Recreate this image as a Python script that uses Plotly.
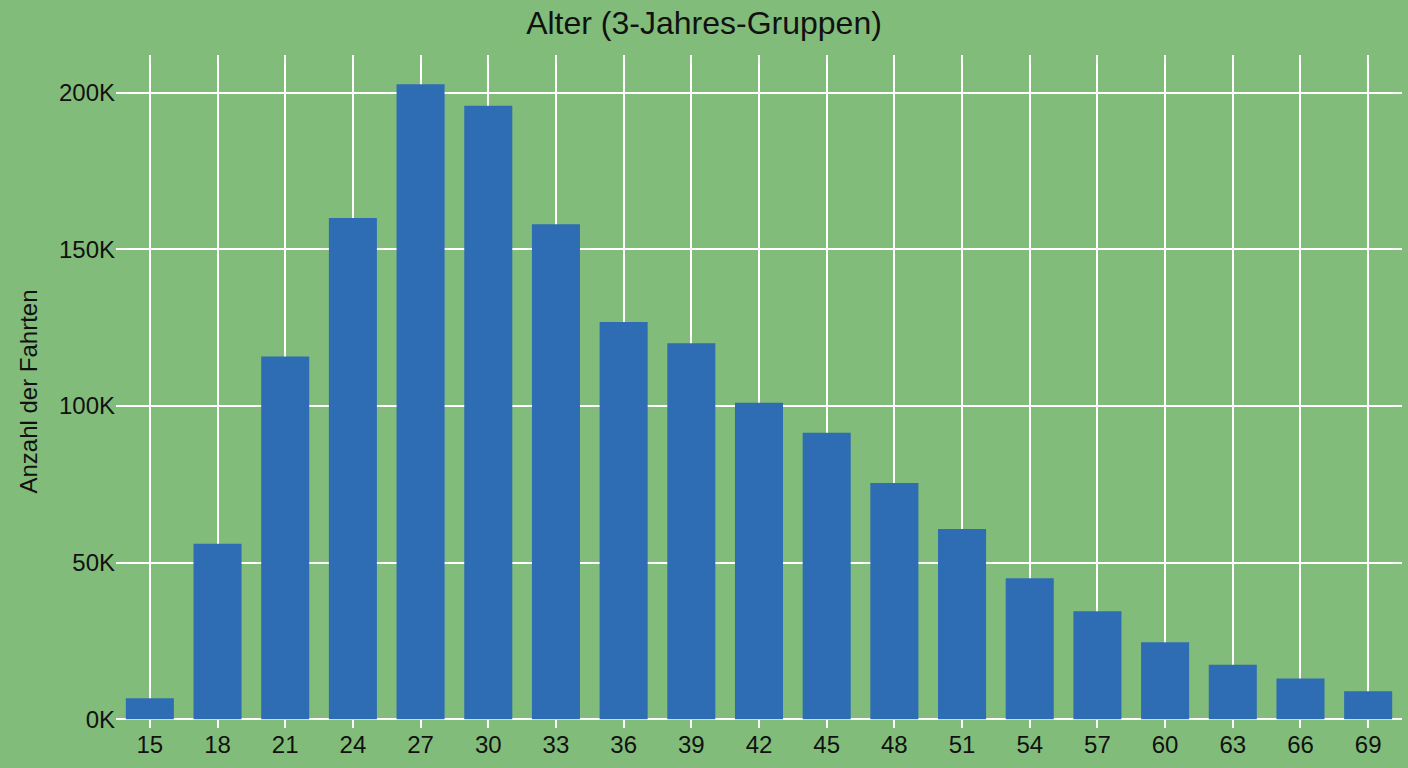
import plotly.graph_objects as go

ages = ["15", "18", "21", "24", "27", "30", "33", "36", "39", "42",
        "45", "48", "51", "54", "57", "60", "63", "66", "69"]
fahrten = [6700, 56000, 115800, 160000, 202700, 195800, 158000, 126800, 120000, 101000,
           91400, 75400, 60700, 45000, 34500, 24600, 17400, 13000, 8900]
tick_vals = [0, 50000, 100000, 150000, 200000]
tick_text = ["0K", "50K", "100K", "150K", "200K"]

fig = go.Figure(go.Bar(x=ages, y=fahrten, marker=dict(color="#2E6DB4", line=dict(width=0))))

fig.update_layout(
    width=1408, height=768,
    paper_bgcolor="#82BC7A", plot_bgcolor="#82BC7A",
    font=dict(family="Liberation Sans, Arial", size=24, color="#111111"),
    title=dict(text="Alter (3-Jahres-Gruppen)", x=0.5, y=0.985, yanchor="top", font=dict(size=32)),
    margin=dict(l=116, r=6, t=55, b=40),
    bargap=0.29,
    showlegend=False,
)
fig.update_xaxes(showgrid=True, gridcolor="white", gridwidth=1.5, ticks="", tickfont=dict(size=24))
fig.update_yaxes(range=[-2800, 212000], tickvals=tick_vals, ticktext=tick_text,
                 showgrid=True, gridcolor="white", gridwidth=1.5, zeroline=False,
                 tickfont=dict(size=24),
                 title=dict(text="Anzahl der Fahrten", font=dict(size=24), standoff=14))

fig.write_html("out.html", config={"displayModeBar": False},
               post_script="document.body.style.margin='0';")
